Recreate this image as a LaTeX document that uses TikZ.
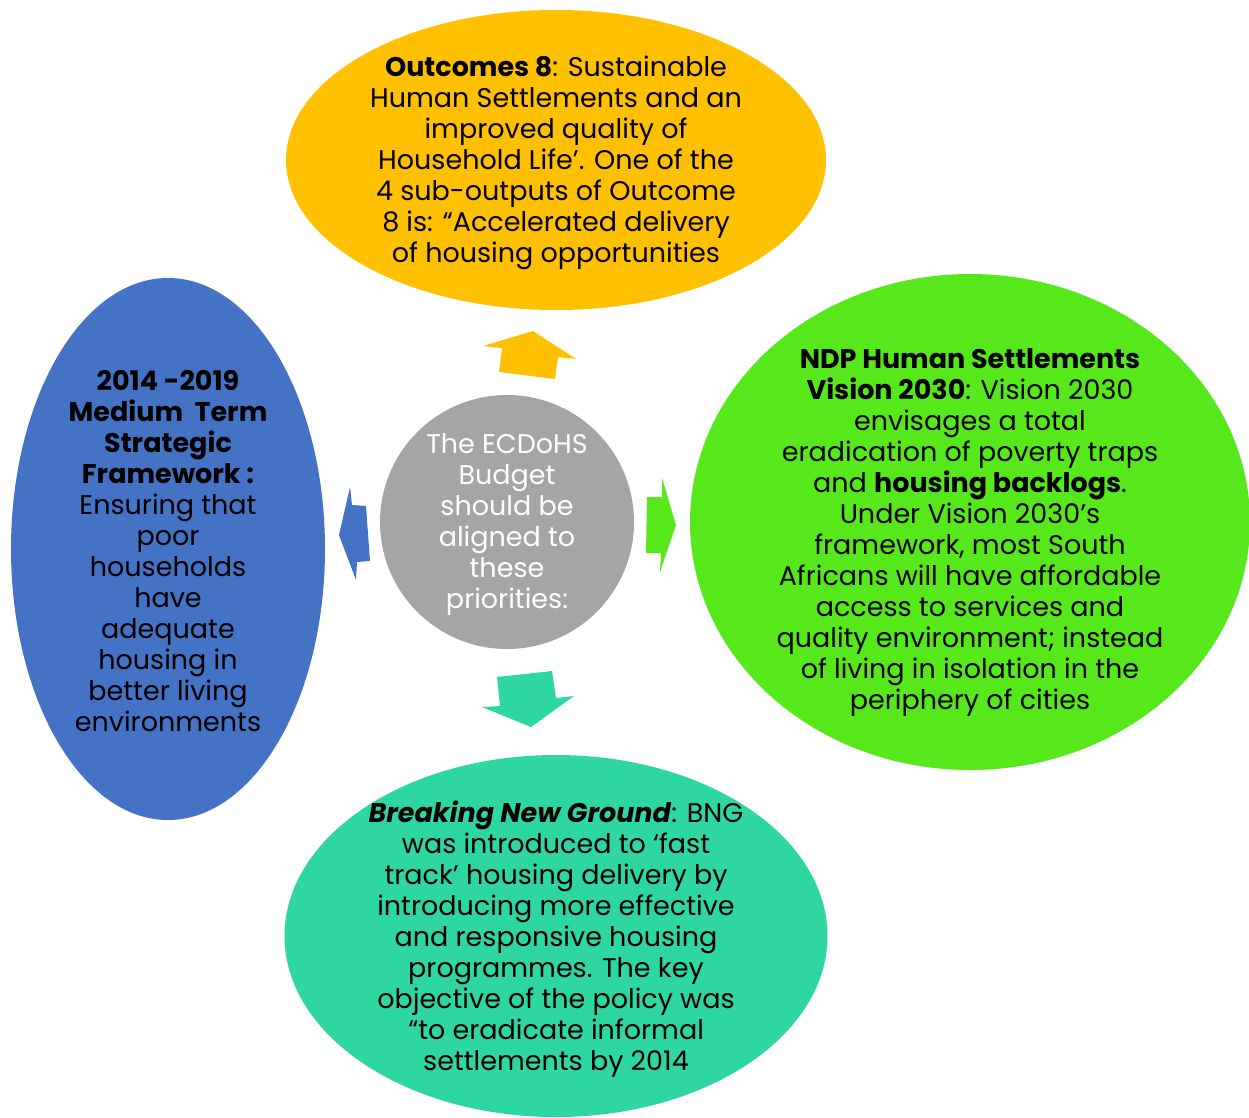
\documentclass[tikz,border=0pt]{standalone}
\usepackage{fontspec}
\setmainfont{Poppins}
\usetikzlibrary{shapes.geometric}
\definecolor{outcomeOrange}{HTML}{FFC000}
\definecolor{mtsfBlue}{HTML}{4472C4}
\definecolor{ndpGreen}{HTML}{56E81B}
\definecolor{bngTeal}{HTML}{2ED6A2}
\definecolor{budgetGrey}{HTML}{A5A5A5}
\begin{document}
\begin{tikzpicture}[x=1pt,y=-1pt,
  bubble/.style={ellipse, draw=none, inner sep=0pt},
  bubbletext/.style={align=center, inner sep=0pt, text=black,
    font=\fontsize{27}{31}\selectfont},
  centretext/.style={align=center, inner sep=0pt, text=white,
    font=\fontsize{27}{31}\selectfont}]
\useasboundingbox (0,0) rectangle (1249,1117);

% the four priority bubbles and the central budget circle
\node[bubble, fill=outcomeOrange, minimum width=540pt, minimum height=300pt] (outcomes) at (556,160) {};
\node[bubble, fill=mtsfBlue, minimum width=314pt, minimum height=542pt] (mtsf) at (168,549) {};
\node[bubble, fill=ndpGreen, minimum width=560pt, minimum height=496pt] (ndp) at (970,522) {};
\node[bubble, fill=bngTeal, minimum width=543pt, minimum height=362pt] (bng) at (556,936) {};
\node[circle, fill=budgetGrey, draw=none, inner sep=0pt, minimum size=254pt] (budget) at (507,522) {};

% block arrows pointing from the centre to each bubble
\fill[outcomeOrange] (483,346) -- (533,331) -- (576,359) -- (558,357) -- (555,379) -- (499,372) -- (502,348) -- cycle;
\fill[mtsfBlue] (339,535) -- (350,487) -- (352,505) -- (366,506) -- (370,561) -- (357,562) -- (356,580) -- cycle;
\fill[ndpGreen] (662,478) -- (676,525) -- (660,572) -- (661,553) -- (646,553) -- (647,497) -- (662,497) -- cycle;
\fill[bngTeal] (497,677) -- (552,671) -- (556,698) -- (574,696) -- (531,727) -- (482,707) -- (500,706) -- cycle;

% texts
\node[bubbletext] (outcomesText) at (556,163) {\textbf{Outcomes 8}: Sustainable\\
Human Settlements and an\\
improved quality of\\
Household Life’. One of the\\
4 sub-outputs of Outcome\\
8 is: “Accelerated delivery\\
of housing opportunities};

\node[bubbletext] (mtsfText) at (168,551) {\textbf{2014 -2019}\\
\textbf{Medium\ \ Term}\\
\textbf{Strategic}\\
\textbf{Framework :}\\
Ensuring that\\
poor\\
households\\
have\\
adequate\\
housing in\\
better living\\
environments};

\node[bubbletext] (ndpText) at (970,533) {\textbf{NDP Human Settlements}\\
\textbf{Vision 2030}: Vision 2030\\
envisages a total\\
eradication of poverty traps\\
and \textbf{housing backlogs}.\\
Under Vision 2030’s\\
framework, most South\\
Africans will have affordable\\
access to services and\\
quality environment; instead\\
of living in isolation in the\\
periphery of cities};

\node[bubbletext] (bngText) at (556,939) {\textbf{\textit{Breaking New Ground}}: BNG\\
was introduced to ‘fast\\
track’ housing delivery by\\
introducing more effective\\
and responsive housing\\
programmes. The key\\
objective of the policy was\\
“to eradicate informal\\
settlements by 2014};

\node[centretext] (budgetText) at (507,525) {The ECDoHS\\
Budget\\
should be\\
aligned to\\
these\\
priorities:};
\end{tikzpicture}
\end{document}
